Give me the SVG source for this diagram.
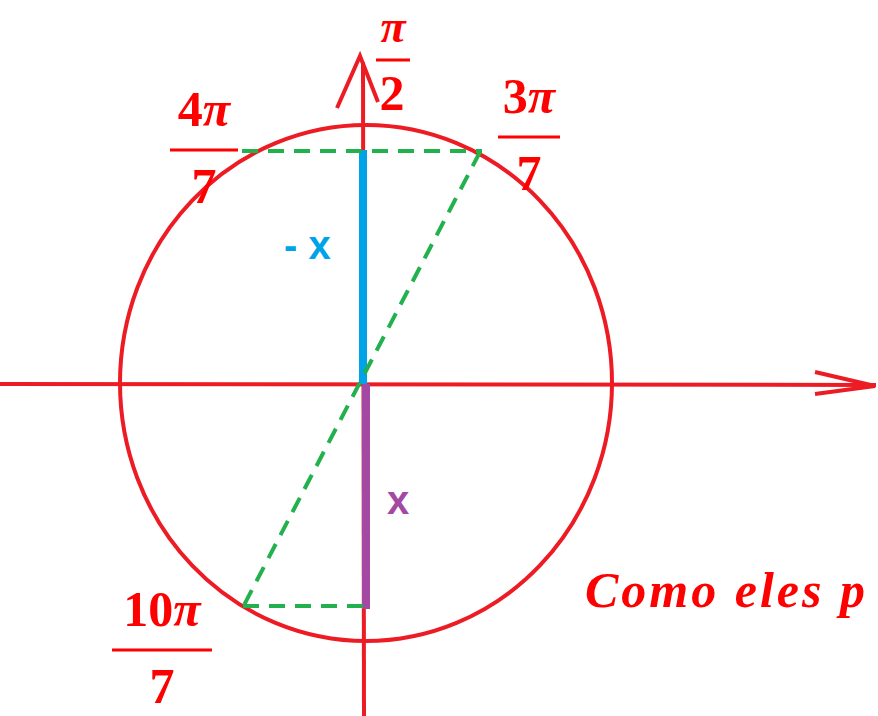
<svg xmlns="http://www.w3.org/2000/svg" width="878" height="716" viewBox="0 0 878 716">
<style>
.ax{stroke:#ed1c24;stroke-width:4;fill:none}
.gd{stroke:#22b14c;stroke-width:4;fill:none;stroke-dasharray:16 10}
.fr{font-family:"Liberation Serif",serif;font-weight:bold;fill:#ff0000;font-size:50px;text-anchor:middle}
.pi{font-style:italic}
.bar{stroke:#ff0000;stroke-width:3}
</style>
<rect width="878" height="716" fill="#fff"/>
<g id="circle"><ellipse class="ax" cx="366" cy="383" rx="246" ry="258"/></g>
<g id="axes">
<line class="ax" x1="0" y1="384" x2="876" y2="385"/>
<polyline class="ax" points="815,372 875,386 815,394"/>
<line class="ax" x1="363" y1="62" x2="364" y2="716"/>
<polyline class="ax" points="337,108 360,56 378,102"/>
</g>
<g id="connectors">
<line x1="363" y1="150" x2="363" y2="384" stroke="#00a2e8" stroke-width="8"/>
<line x1="366" y1="384" x2="366" y2="609" stroke="#a349a4" stroke-width="8"/>
<line class="gd" x1="242" y1="151" x2="482" y2="151"/>
<line class="gd" x1="480" y1="152" x2="243" y2="607"/>
<line class="gd" x1="243" y1="606" x2="366" y2="606"/>
</g>
<g id="lbl-pi2"><text class="fr pi" x="393" y="42" style="font-size:46px">π</text><line class="bar" x1="376" y1="60" x2="410" y2="60"/><text class="fr" x="392" y="110">2</text></g>
<g id="lbl-4pi7"><text class="fr" x="204" y="126">4<tspan class="pi">π</tspan></text><line class="bar" x1="170" y1="150" x2="238" y2="150"/><text class="fr" x="204" y="203">7</text></g>
<g id="lbl-3pi7"><text class="fr" x="529" y="113">3<tspan class="pi">π</tspan></text><line class="bar" x1="498" y1="137" x2="560" y2="137"/><text class="fr" x="529" y="190">7</text></g>
<g id="lbl-10pi7"><text class="fr" x="162" y="626">10<tspan class="pi">π</tspan></text><line class="bar" x1="112" y1="650" x2="212" y2="650"/><text class="fr" x="162" y="703">7</text></g>
<g id="lbl-x"><text x="284" y="259" font-family="Liberation Sans,sans-serif" font-weight="bold" font-size="40" fill="#00a2e8">- x</text>
<text x="387" y="514" font-family="Liberation Sans,sans-serif" font-weight="bold" font-size="40" fill="#a349a4">x</text></g>
<text x="585" y="607" font-family="Liberation Serif,serif" font-weight="bold" font-style="italic" font-size="50" fill="#ff0000" letter-spacing="3">Como eles p</text>
</svg>
